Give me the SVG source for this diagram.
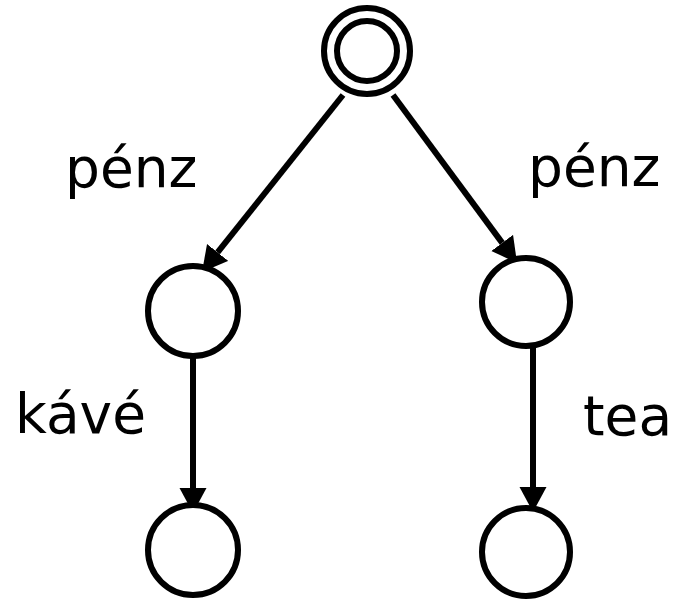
<svg xmlns="http://www.w3.org/2000/svg" width="679" height="602" viewBox="0 0 679 602">
<style>
.node{fill:#fff;stroke:#000;stroke-width:6}
.edge{fill:none;stroke:#000;stroke-width:6}
.lbl{font-family:"DejaVu Sans",Verdana,sans-serif;font-size:55px;fill:#000}
</style>
<defs>
<marker id="arr" markerUnits="userSpaceOnUse" viewBox="0 -14 26 28" markerWidth="26" markerHeight="28" refX="0" refY="0" orient="auto">
<path d="M0,-13.5 L25,0 L0,13.5 Z" fill="#000"/>
</marker>
</defs>
<rect width="679" height="602" fill="#fff"/>
<g id="connectors">
<path class="edge" d="M343,95 L217.6,252.4" marker-end="url(#arr)"/>
<path class="edge" d="M393,95 L502.2,242.9" marker-end="url(#arr)"/>
<path class="edge" d="M193,357 L193,488" marker-end="url(#arr)"/>
<path class="edge" d="M533,348 L533,487" marker-end="url(#arr)"/>
</g>
<g id="start">
<circle class="node" cx="367" cy="51" r="43"/>
<circle class="node" cx="367" cy="51" r="30"/>
</g>
<g id="n1"><circle class="node" cx="193" cy="311" r="45"/></g>
<g id="n2"><circle class="node" cx="526" cy="302" r="44"/></g>
<g id="n3"><circle class="node" cx="193" cy="550" r="45"/></g>
<g id="n4"><circle class="node" cx="526" cy="552" r="44"/></g>
<g id="labels">
<text class="lbl" x="65" y="187">pénz</text>
<text class="lbl" x="528" y="186">pénz</text>
<text class="lbl" x="15" y="433">kávé</text>
<text class="lbl" x="583" y="435">tea</text>
</g>
</svg>
